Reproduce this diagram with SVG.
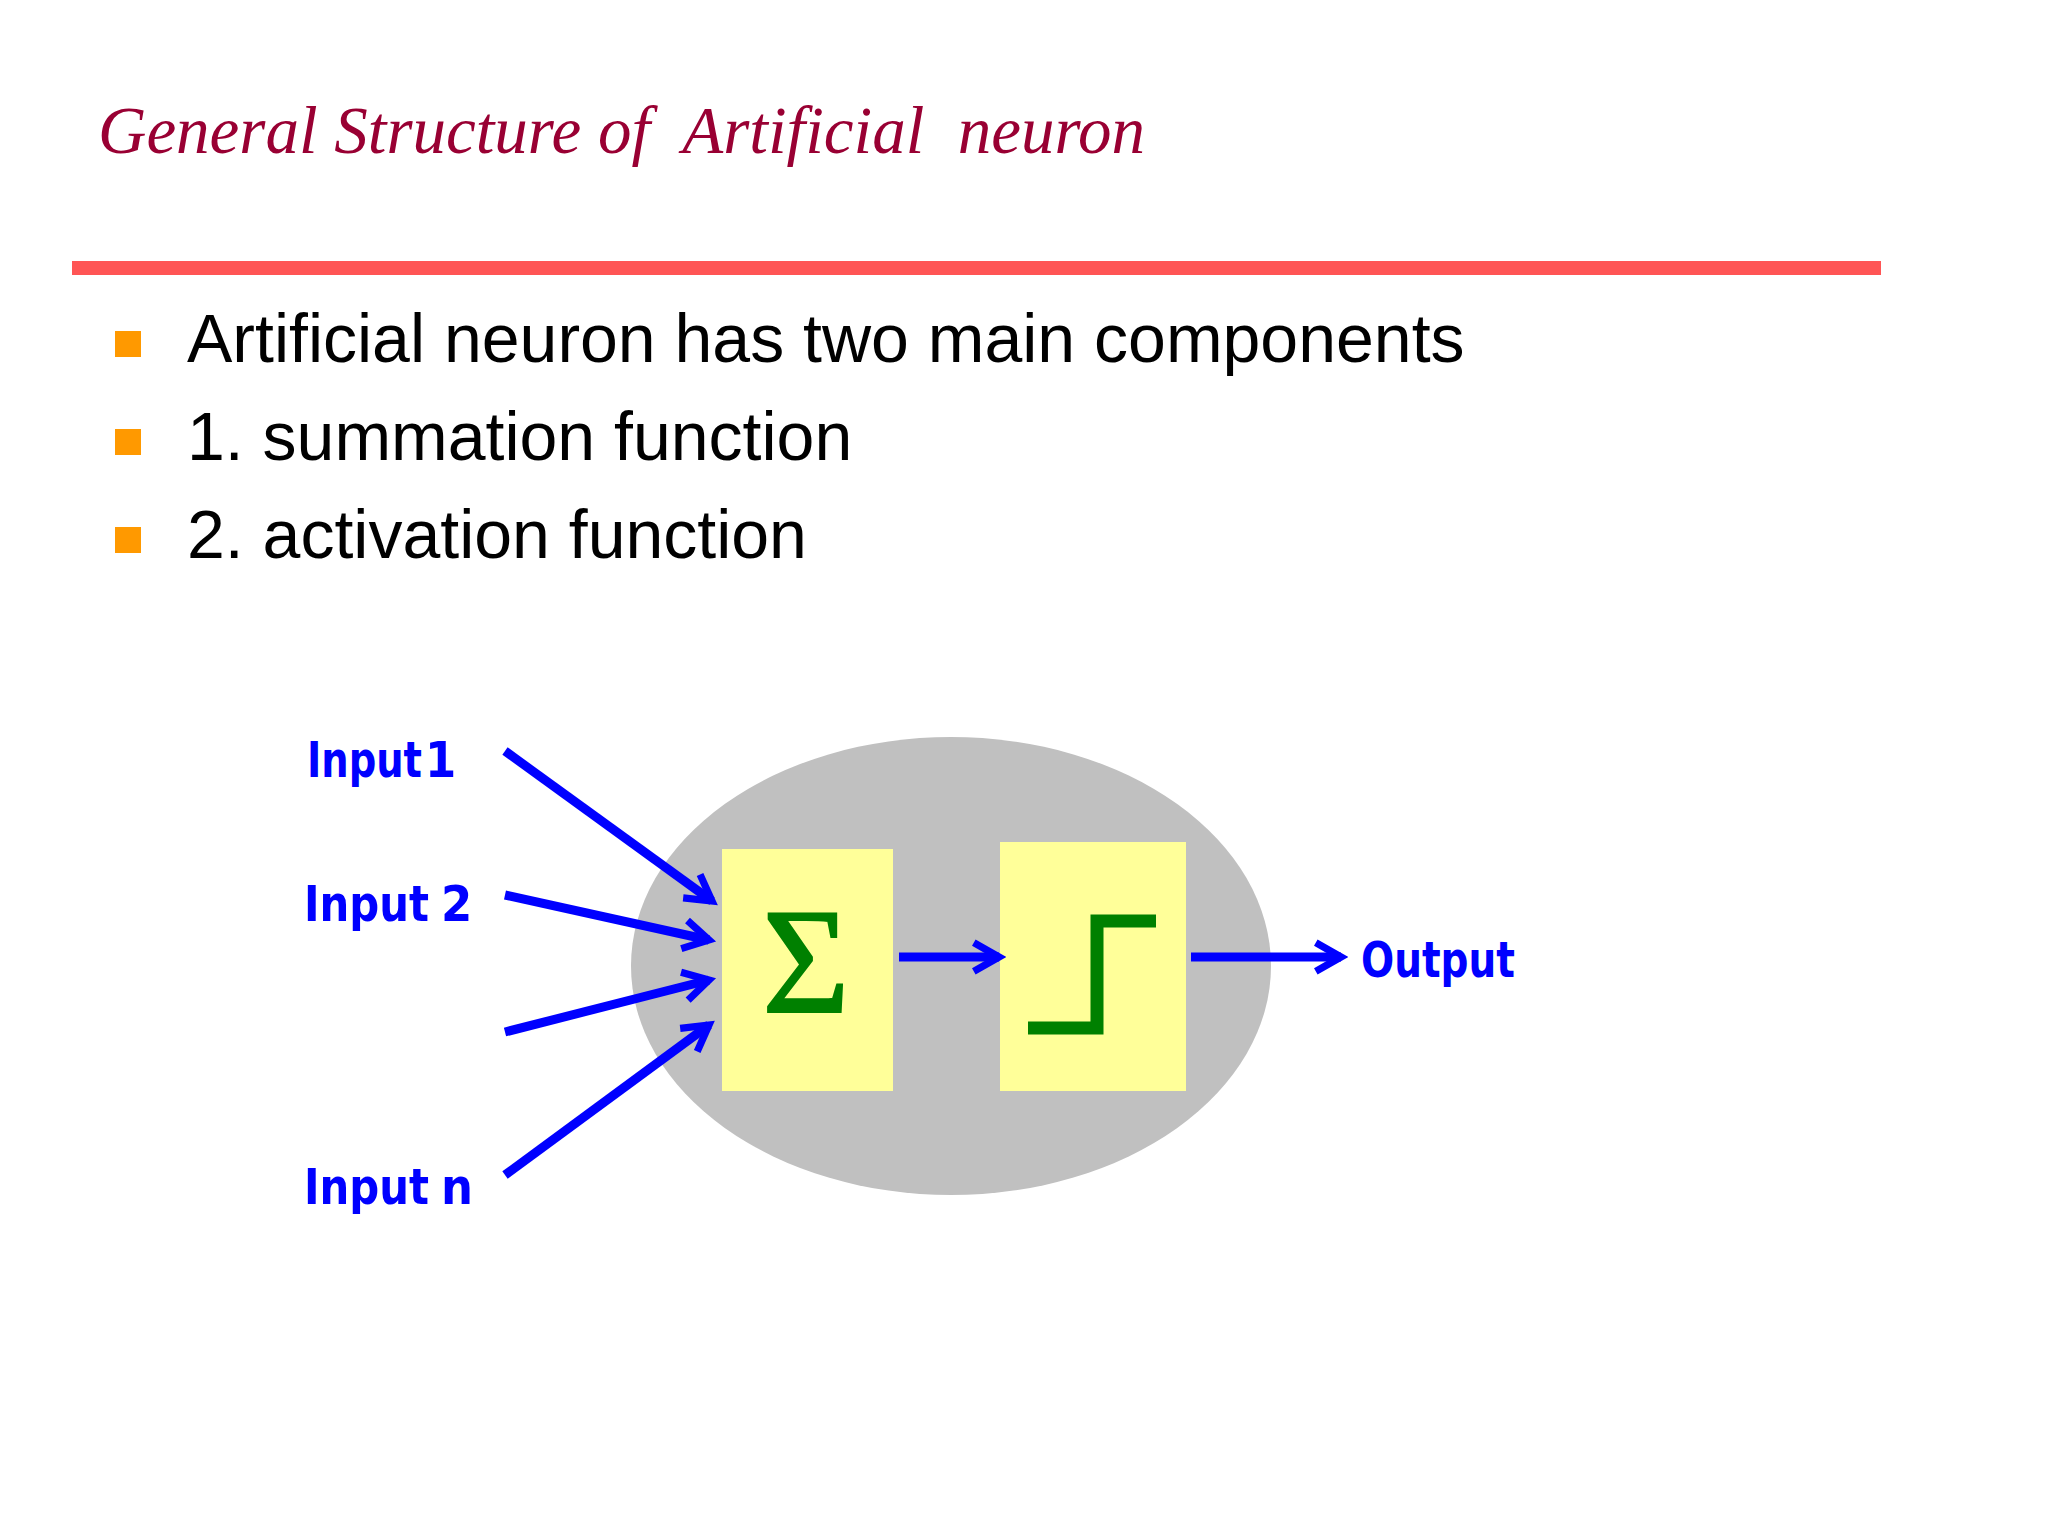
<svg xmlns="http://www.w3.org/2000/svg" width="2048" height="1536" viewBox="0 0 2048 1536">
<style>
.b{font-family:"Liberation Sans",Arial,sans-serif;font-size:68px;fill:#000}
.l{font-family:"DejaVu Sans Condensed","DejaVu Sans",sans-serif;font-weight:bold;font-size:50px;fill:#0000FF}
.a{stroke:#0000FF;stroke-width:9;fill:none;marker-end:url(#ah)}
</style>
<defs>
<marker id="ah" viewBox="0 0 10 10" refX="8" refY="5" markerWidth="4" markerHeight="4" orient="auto" markerUnits="strokeWidth">
<path d="M1,1 L8,5 L1,9" fill="none" stroke="#0000FF" stroke-width="2"/>
</marker>
</defs>
<rect width="2048" height="1536" fill="#fff"/>
<text x="98" y="153" xml:space="preserve" font-family="Liberation Serif,serif" font-style="italic" font-size="67" fill="#990033">General Structure of  Artificial  neuron</text>
<rect x="72" y="261" width="1809" height="14" fill="#FF5555"/>
<g id="bullets">
<rect x="115" y="331" width="26" height="26" fill="#FF9900"/>
<rect x="115" y="429" width="26" height="26" fill="#FF9900"/>
<rect x="115" y="527" width="26" height="26" fill="#FF9900"/>
<text class="b" x="187" y="362">Artificial neuron has two main components</text>
<text class="b" x="187" y="460">1. summation function</text>
<text class="b" x="187" y="558">2. activation function</text>
</g>
<g id="neuron"><ellipse cx="951" cy="966" rx="320" ry="229" fill="#C0C0C0"/></g>
<g id="sum"><rect x="722" y="849" width="171" height="242" fill="#FFFF99"/>
<text x="806" y="1012" text-anchor="middle" font-family="Liberation Serif,serif" font-size="150" fill="#008000" stroke="#008000" stroke-width="2">Σ</text></g>
<g id="act"><rect x="1000" y="842" width="186" height="249" fill="#FFFF99"/>
<path d="M1028,1028 H1097 V921 H1156" fill="none" stroke="#008000" stroke-width="13"/></g>
<g id="labels">
<text class="l" x="307" y="777" textLength="115" lengthAdjust="spacingAndGlyphs">Input</text>
<text class="l" x="425" y="777" font-size="30">1</text>
<text class="l" x="304" y="921" textLength="125" lengthAdjust="spacingAndGlyphs">Input</text>
<text class="l" x="441" y="921" font-size="30">2</text>
<text class="l" x="304" y="1204" textLength="125" lengthAdjust="spacingAndGlyphs">Input</text>
<text class="l" x="441" y="1204" font-size="30">n</text>
<text class="l" x="1361" y="977" textLength="154" lengthAdjust="spacingAndGlyphs">Output</text>
</g>
<g id="connectors">
<path class="a" d="M505,751 L712,901"/>
<path class="a" d="M505,895 L709,940"/>
<path class="a" d="M505,1032 L709,980"/>
<path class="a" d="M505,1175 L709,1025"/>
<path class="a" d="M899,957 L999,957"/>
<path class="a" d="M1191,957 L1341,957"/>
</g>
</svg>
